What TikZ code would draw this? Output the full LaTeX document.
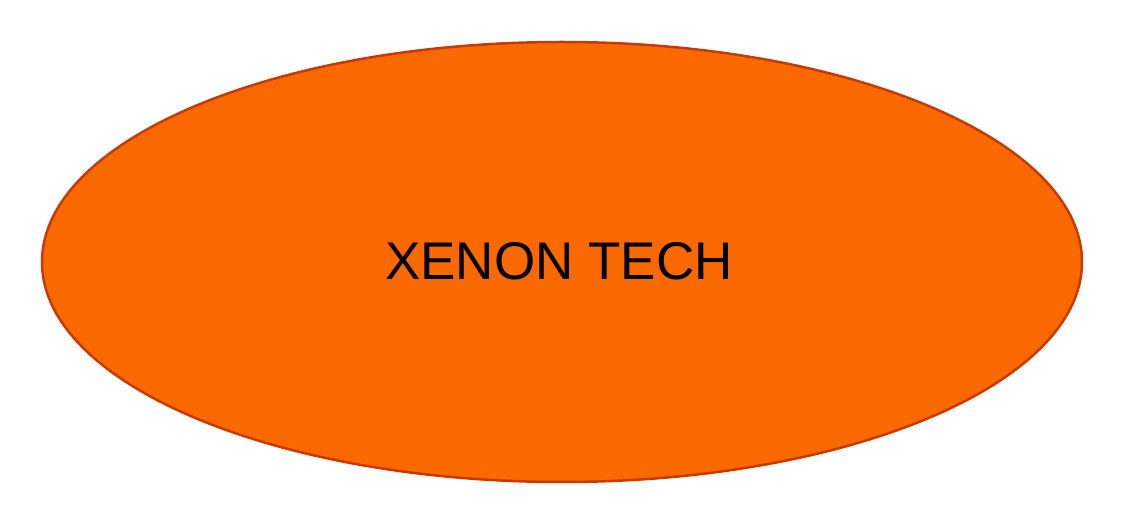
\documentclass[tikz,border=0pt]{standalone}
\usepackage{fontspec}
\setmainfont{Liberation Sans}
\definecolor{fillorange}{HTML}{FA6800}
\definecolor{edgeorange}{HTML}{C73A00}
\tikzset{blob/.style={ellipse, draw=edgeorange, fill=fillorange, line width=2.5pt, minimum width=1040pt, minimum height=440pt, inner sep=0pt, font=\fontsize{53}{60}\selectfont}}
\usetikzlibrary{shapes.geometric}
\begin{document}
\begin{tikzpicture}[x=1pt,y=1pt]
\useasboundingbox (0,0) rectangle (1128,528);
\node[blob] (main) at (562,266) {};
\node[font=\fontsize{53}{60}\selectfont, anchor=base] (label) at (559,248) {XENON TECH};
\end{tikzpicture}
\end{document}
